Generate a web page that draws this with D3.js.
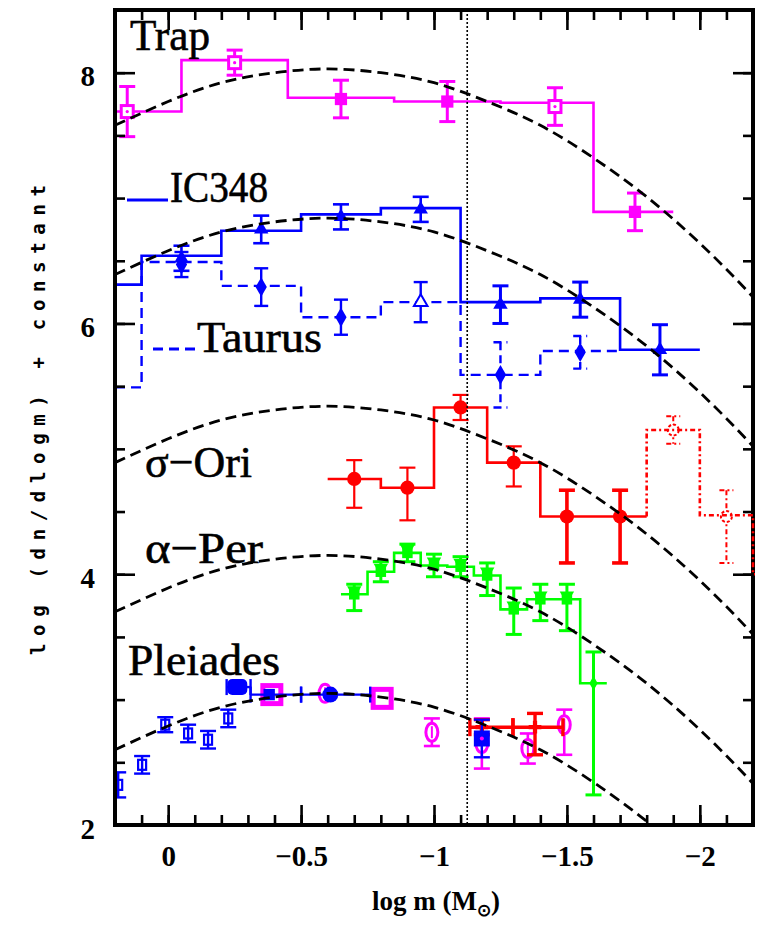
<!DOCTYPE html>
<html><head><meta charset="utf-8">
<script src="https://cdn.jsdelivr.net/npm/d3@7/dist/d3.min.js"></script>
<style>body{margin:0;background:#fff}</style>
</head><body>
<svg id="c" width="760" height="933"></svg>
<script>
// ---------------- DATA ----------------
const xTickValues = [0, -0.5, -1, -1.5, -2];
const xTickLabels = ["0", "\u22120.5", "\u22121", "\u22121.5", "\u22122"];
const yTickValues = [2, 4, 6, 8];
const yTickLabels = ["2", "4", "6", "8"];
const hydrogenLimit = -1.125;

// lognormal fits (dashed), sampled along log m
const curveLogM   = [0.2, 0, -0.2, -0.4, -0.6, -0.8, -1.0, -1.2, -1.4, -1.6, -1.8, -2.0, -2.2, -2.4];
const trapFit     = [7.58, 7.77, 7.92, 8.00, 8.03, 8.00, 7.92, 7.77, 7.58, 7.32, 7.01, 6.64, 6.21, 5.73];
const ic348Fit    = [6.39, 6.58, 6.73, 6.81, 6.84, 6.81, 6.73, 6.58, 6.39, 6.13, 5.82, 5.45, 5.02, 4.54];
const sigOriFit   = [4.89, 5.08, 5.23, 5.31, 5.34, 5.31, 5.23, 5.08, 4.89, 4.63, 4.32, 3.95, 3.52, 3.04];
const alphaPerFit = [3.70, 3.89, 4.04, 4.12, 4.15, 4.12, 4.04, 3.89, 3.70, 3.44, 3.13, 2.76, 2.33, 1.85];
const pleiadesFit = [2.60, 2.79, 2.94, 3.02, 3.05, 3.02, 2.94, 2.79, 2.60, 2.34, 2.03, 1.66, 1.23, 0.75];

// histograms (bin edges in log m, value per bin)
const trapEdges = [0.2, -0.05, -0.45, -0.85, -1.25, -1.6, -1.9];
const trapHist  = [7.69, 8.10, 7.80, 7.77, 7.76, 6.89];
const ic348Edges = [0.2, 0.1, -0.2, -0.5, -0.8, -1.1, -1.4, -1.7, -2.0];
const ic348Hist  = [6.31, 6.54, 6.74, 6.87, 6.92, 6.17, 6.20, 5.79];
const taurusEdges = [0.2, 0.1, -0.2, -0.5, -0.8, -1.1, -1.4, -1.7];
const taurusHist  = [5.49, 6.49, 6.30, 6.05, 6.17, 5.59, 5.78];
const sigOriEdges = [-0.6, -0.8, -1.0, -1.2, -1.4, -1.8];
const sigOriHist  = [4.76, 4.69, 5.33, 4.89, 4.46];
const sigOriExtEdges = [-1.8, -2.0, -2.2, -2.4];
const sigOriExtHist  = [5.15, 4.47, 4.00];
const alphaPerEdges = [-0.65, -0.75, -0.85, -0.95, -1.05, -1.15, -1.25, -1.35, -1.45, -1.55, -1.65];
const alphaPerHist  = [3.84, 4.02, 4.17, 4.07, 4.06, 3.99, 3.72, 3.80, 3.80, 3.13];

// points with error bars
const trapX   = [0.154, -0.25, -0.65, -1.05, -1.455, -1.756];
const trapY   = [7.69, 8.08, 7.79, 7.77, 7.73, 6.89];
const trapErr = [0.20, 0.10, 0.15, 0.16, 0.15, 0.15];

const ic348X   = [-0.05, -0.35, -0.65, -0.95, -1.25, -1.55, -1.85];
const ic348Y   = [6.52, 6.75, 6.85, 6.91, 6.15, 6.19, 5.79];
const ic348Err = [0.10, 0.11, 0.10, 0.10, 0.15, 0.14, 0.20];

const taurusX   = [-0.05, -0.35, -0.65, -0.95, -1.25, -1.55];
const taurusY   = [6.47, 6.29, 6.05, 6.17, 5.59, 5.77];
const taurusErr = [0.10, 0.15, 0.14, 0.16, 0.26, 0.13];

const sigOriX  = [-0.7, -0.9, -1.1, -1.3, -1.5, -1.7];
const sigOriY  = [4.76, 4.69, 5.33, 4.89, 4.46, 4.46];
const sigOriUp = [0.15, 0.16, 0.10, 0.13, 0.21, 0.21];
const sigOriDn = [0.23, 0.26, 0.10, 0.19, 0.37, 0.37];
const sigOriExtX  = [-1.9, -2.1];
const sigOriExtY  = [5.15, 4.46];
const sigOriExtUp = [0.11, 0.21];
const sigOriExtDn = [0.11, 0.37];

const alphaPerX  = [-0.7, -0.8, -0.9, -1.0, -1.1, -1.2, -1.3, -1.4, -1.5, -1.6];
const alphaPerY  = [3.84, 4.02, 4.17, 4.07, 4.06, 3.99, 3.72, 3.80, 3.80, 3.13];
const alphaPerUp = [0.08, 0.08, 0.07, 0.09, 0.08, 0.10, 0.17, 0.12, 0.12, 0.25];
const alphaPerDn = [0.13, 0.08, 0.07, 0.09, 0.08, 0.16, 0.20, 0.17, 0.25, 0.89];

const pleiBlueX   = [0.188, 0.098, 0.011, -0.075, -0.15, -0.226];
const pleiBlueY   = [2.32, 2.48, 2.80, 2.73, 2.68, 2.85];
const pleiBlueErr = [0.10, 0.07, 0.06, 0.07, 0.07, 0.07];
const pleiBinX  = [-0.26, -0.38, -0.61];
const pleiBinY  = [3.10, 3.04, 3.04];
const pleiBinLo = [-0.22, -0.31, -0.50];
const pleiBinHi = [-0.31, -0.50, -0.76];
const pleiBlueSqX = [-1.18], pleiBlueSqY = [2.69], pleiBlueSqErr = [0.15];
const pleiMagSqX = [-0.39, -0.805];
const pleiMagSqY = [3.04, 3.01];
const pleiMagCircX  = [-0.59, -0.992, -1.18, -1.353, -1.49];
const pleiMagCircY  = [3.05, 2.74, 2.65, 2.61, 2.80];
const pleiMagCircUp = [0.00, 0.11, 0.20, 0.12, 0.12];
const pleiMagCircDn = [0.00, 0.11, 0.20, 0.12, 0.24];
const pleiRedX  = [-1.18, -1.38];
const pleiRedY  = [2.78, 2.78];
const pleiRedLo = [-1.135, -1.297];
const pleiRedHi = [-1.297, -1.485];
const pleiRedUp = [0.06, 0.11];
const pleiRedDn = [0.06, 0.22];

const clusterNames = ["Trap", "IC348", "Taurus", "\u03C3\u2212Ori", "\u03B1\u2212Per", "Pleiades"];

// ---------------- DRAWING ----------------
const MAG = "#ff00ff", BLUE = "#0000ff", RED = "#ff0000", GREEN = "#00ff00";
const L = 115, R = 753, T = 10, B = 825;
const x = d3.scaleLinear().domain([0.2, -2.2]).range([L, R]);
const y = d3.scaleLinear().domain([2, 8.5]).range([B, T]);
const svg = d3.select("#c");

const defs = svg.append("defs");
defs.append("clipPath").attr("id", "plot")
  .append("rect").attr("x", L).attr("y", T).attr("width", R - L).attr("height", B - T);
defs.append("clipPath").attr("id", "plotWide")
  .append("rect").attr("x", L).attr("y", T).attr("width", R - L + 2).attr("height", B - T);
const g = svg.append("g").attr("clip-path", "url(#plot)");

const stepLine = d3.line().x(d => x(d[0])).y(d => y(d[1])).curve(d3.curveStepAfter);
function stepPts(edges, vals, start) {
  const pts = [];
  if (start !== undefined) pts.push([edges[0], start]);
  vals.forEach((v, i) => pts.push([edges[i], v]));
  pts.push([edges[edges.length - 1], vals[vals.length - 1]]);
  return pts;
}
function hist(edges, vals, color, w, dash, start, target) {
  (target || g).append("path").attr("d", stepLine(stepPts(edges, vals, start)))
    .attr("fill", "none").attr("stroke", color).attr("stroke-width", w)
    .attr("stroke-dasharray", dash || null);
}
function vbar(xv, yv, up, dn, color, w, cap, dash) {
  const px = x(xv);
  const e = g.append("g").attr("stroke", color).attr("stroke-width", w).attr("fill", "none")
    .attr("stroke-dasharray", dash || null);
  e.append("line").attr("x1", px).attr("x2", px).attr("y1", y(yv + up)).attr("y2", y(yv - dn));
  if (up > 0) e.append("line").attr("x1", px - cap).attr("x2", px + cap).attr("y1", y(yv + up)).attr("y2", y(yv + up));
  if (dn > 0) e.append("line").attr("x1", px - cap).attr("x2", px + cap).attr("y1", y(yv - dn)).attr("y2", y(yv - dn));
}
function hbar(lo, hi, yv, color, w, cap) {
  const e = g.append("g").attr("stroke", color).attr("stroke-width", w);
  e.append("line").attr("x1", x(lo)).attr("x2", x(hi)).attr("y1", y(yv)).attr("y2", y(yv));
  [lo, hi].forEach(v => e.append("line").attr("x1", x(v)).attr("x2", x(v)).attr("y1", y(yv) - cap).attr("y2", y(yv) + cap));
}
function sym(type, xv, yv, size, fill, stroke, sw, rot) {
  g.append("path").attr("d", d3.symbol(type, size)())
    .attr("transform", `translate(${x(xv)},${y(yv)}) rotate(${rot || 0})`)
    .attr("fill", fill).attr("stroke", stroke || "none").attr("stroke-width", sw || 0);
}

// histograms
hist(trapEdges, trapHist, MAG, 2.6);
hist(ic348Edges, ic348Hist, BLUE, 2.6);
hist(taurusEdges, taurusHist, BLUE, 2.4, "10,6");
hist(sigOriEdges, sigOriHist, RED, 2.6);
hist(alphaPerEdges, alphaPerHist, GREEN, 2.6);

// Trap points
const trapOpen = [true, true, false, false, true, false];
trapX.forEach((xv, i) => {
  vbar(xv, trapY[i], trapErr[i], trapErr[i], MAG, 3, 8);
  if (trapOpen[i]) {
    g.append("rect").attr("x", x(xv) - 6).attr("y", y(trapY[i]) - 6).attr("width", 12).attr("height", 12)
      .attr("fill", "#fff").attr("stroke", MAG).attr("stroke-width", 3);
    g.append("circle").attr("cx", x(xv)).attr("cy", y(trapY[i])).attr("r", 1.6).attr("fill", MAG);
  } else {
    sym(d3.symbolSquare, xv, trapY[i], 150, MAG);
  }
});

// IC348 points
ic348X.forEach((xv, i) => {
  vbar(xv, ic348Y[i], ic348Err[i], ic348Err[i], BLUE, i >= 4 ? 3 : 2.6, 8);
  sym(d3.symbolTriangle, xv, ic348Y[i], 90, BLUE);
});
// Taurus points
taurusX.forEach((xv, i) => {
  vbar(xv, taurusY[i], taurusErr[i], taurusErr[i], BLUE, 2.4, 7, i >= 4 ? "8,5" : null);
  if (i === 3) {
    sym(d3.symbolTriangle, xv, taurusY[i], 80, "#fff", BLUE, 2);
  } else {
    sym(d3.symbolDiamond, xv, taurusY[i], 110, BLUE);
  }
});

// sigma Ori points
sigOriX.forEach((xv, i) => {
  vbar(xv, sigOriY[i], sigOriUp[i], sigOriDn[i], RED, i >= 4 ? 3.6 : 2.2, 8);
  sym(d3.symbolCircle, xv, sigOriY[i], 160, RED);
});
sigOriExtX.forEach((xv, i) => {
  vbar(xv, sigOriExtY[i], sigOriExtUp[i], sigOriExtDn[i], RED, 2, 7, "5,3,2,3");
  g.append("circle").attr("cx", x(xv)).attr("cy", y(sigOriExtY[i])).attr("r", 5.5)
    .attr("fill", "#fff").attr("stroke", RED).attr("stroke-width", 2).attr("stroke-dasharray", "3,2");
});

// alpha Per points
alphaPerX.forEach((xv, i) => {
  vbar(xv, alphaPerY[i], alphaPerUp[i], alphaPerDn[i], GREEN, 3, 8);
  if (i === alphaPerX.length - 1) {
    sym(d3.symbolDiamond, xv, alphaPerY[i], 60, GREEN);
  } else {
    sym(d3.symbolSquare, xv, alphaPerY[i], 110, GREEN);
    sym(d3.symbolTriangle, xv, alphaPerY[i] + 0.03, 90, GREEN, null, 0, 180);
  }
});

// Pleiades
pleiBlueX.forEach((xv, i) => {
  vbar(xv, pleiBlueY[i], pleiBlueErr[i], pleiBlueErr[i], BLUE, 2.4, 8);
  g.append("rect").attr("x", x(xv) - 4).attr("y", y(pleiBlueY[i]) - 5).attr("width", 8).attr("height", 10)
    .attr("fill", "none").attr("stroke", BLUE).attr("stroke-width", 2.2);
});
pleiMagCircX.forEach((xv, i) => {
  vbar(xv, pleiMagCircY[i], pleiMagCircUp[i], pleiMagCircDn[i], MAG, 2.6, 8);
  g.append("ellipse").attr("cx", x(xv)).attr("cy", y(pleiMagCircY[i])).attr("rx", 6).attr("ry", 9)
    .attr("fill", "#fff").attr("stroke", MAG).attr("stroke-width", 3);
  g.append("line").attr("x1", x(xv)).attr("x2", x(xv)).attr("y1", y(pleiMagCircY[i]) - 6).attr("y2", y(pleiMagCircY[i]) + 6)
    .attr("stroke", MAG).attr("stroke-width", 2);
});
pleiMagSqX.forEach((xv, i) => {
  g.append("rect").attr("x", x(xv) - 9).attr("y", y(pleiMagSqY[i]) - 9).attr("width", 18).attr("height", 18)
    .attr("fill", i === 1 ? "#fff" : "none").attr("stroke", MAG).attr("stroke-width", 5);
});
pleiBinX.forEach((xv, i) => {
  hbar(pleiBinLo[i], pleiBinHi[i], pleiBinY[i], BLUE, 2.4, 8);
  if (i === 0) {
    g.append("rect").attr("x", x(xv) - 10).attr("y", y(pleiBinY[i]) - 8).attr("width", 20).attr("height", 16)
      .attr("rx", 5).attr("fill", BLUE);
  } else if (i === 1) {
    sym(d3.symbolSquare, xv, pleiBinY[i], 130, BLUE);
  } else {
    sym(d3.symbolCircle, xv, pleiBinY[i], 200, BLUE);
  }
});
pleiRedX.forEach((xv, i) => {
  hbar(pleiRedLo[i], pleiRedHi[i], pleiRedY[i], RED, 3.4, 9);
  vbar(xv, pleiRedY[i], pleiRedUp[i], pleiRedDn[i], RED, 3.4, 8);
  sym(d3.symbolCross, xv, pleiRedY[i], 90, RED);
});
pleiBlueSqX.forEach((xv, i) => {
  vbar(xv, pleiBlueSqY[i], pleiBlueSqErr[i], pleiBlueSqErr[i], BLUE, 2.4, 8);
  g.append("rect").attr("x", x(xv) - 8).attr("y", y(pleiBlueSqY[i]) - 8).attr("width", 16).attr("height", 16)
    .attr("fill", BLUE);
  g.append("circle").attr("cx", x(xv)).attr("cy", y(pleiBlueSqY[i])).attr("r", 2).attr("fill", MAG);
});

// dashed lognormal fits
const fitLine = d3.line().x((d, i) => x(curveLogM[i])).y(d => y(d)).curve(d3.curveNatural);
[trapFit, ic348Fit, sigOriFit, alphaPerFit, pleiadesFit].forEach(arr => {
  g.append("path").attr("d", fitLine(arr)).attr("fill", "none")
    .attr("stroke", "#000").attr("stroke-width", 2.8).attr("stroke-dasharray", "11,6");
});

// hydrogen burning limit
g.append("line").attr("x1", x(hydrogenLimit)).attr("x2", x(hydrogenLimit)).attr("y1", T).attr("y2", B)
  .attr("stroke", "#000").attr("stroke-width", 1.6).attr("stroke-dasharray", "2,2");

// ---------------- AXES ----------------
const minorX = d3.range(2, -23, -1).map(v => v / 10);
const minorY = d3.range(4, 18, 1).map(v => v / 2);
function styleAxis(sel) {
  sel.select(".domain").remove();
  sel.selectAll(".tick line").attr("stroke", "#000").attr("stroke-width", 2.6);
}
const fmtX = d => xTickLabels[xTickValues.indexOf(d)];
const fmtY = d => yTickLabels[yTickValues.indexOf(d)];
svg.append("g").attr("transform", `translate(0,${B})`)
  .call(d3.axisBottom(x).tickValues(minorX).tickSize(-10).tickFormat("")).call(styleAxis);
svg.append("g").attr("transform", `translate(0,${B})`)
  .call(d3.axisBottom(x).tickValues(xTickValues).tickSize(-20).tickPadding(20).tickFormat(fmtX)).call(styleAxis)
  .selectAll("text").attr("font-family", "Liberation Serif, serif").attr("font-weight", "bold")
  .attr("font-size", 29).attr("fill", "#000");
svg.append("g").attr("transform", `translate(0,${T})`)
  .call(d3.axisTop(x).tickValues(minorX).tickSize(-10).tickFormat("")).call(styleAxis);
svg.append("g").attr("transform", `translate(0,${T})`)
  .call(d3.axisTop(x).tickValues(xTickValues).tickSize(-20).tickFormat("")).call(styleAxis);
svg.append("g").attr("transform", `translate(${L},0)`)
  .call(d3.axisLeft(y).tickValues(minorY).tickSize(-10).tickFormat("")).call(styleAxis);
svg.append("g").attr("transform", `translate(${L},0)`)
  .call(d3.axisLeft(y).tickValues(yTickValues).tickSize(-20).tickPadding(20).tickFormat(fmtY)).call(styleAxis)
  .selectAll("text").attr("font-family", "Liberation Serif, serif").attr("font-weight", "bold")
  .attr("font-size", 29).attr("fill", "#000").attr("dy", "0.45em");
svg.append("g").attr("transform", `translate(${R},0)`)
  .call(d3.axisRight(y).tickValues(minorY).tickSize(-10).tickFormat("")).call(styleAxis);
svg.append("g").attr("transform", `translate(${R},0)`)
  .call(d3.axisRight(y).tickValues(yTickValues).tickSize(-20).tickFormat("")).call(styleAxis);

svg.append("rect").attr("x", L).attr("y", T).attr("width", R - L).attr("height", B - T)
  .attr("fill", "none").attr("stroke", "#000").attr("stroke-width", 4);

// sigma Ori extension histogram (drawn over the frame at the right edge, as in the original)
const gWide = svg.append("g").attr("clip-path", "url(#plotWide)");
hist(sigOriExtEdges, sigOriExtHist, RED, 2.6, "5,3,2,3", sigOriHist[sigOriHist.length - 1], gWide);

// axis titles
const xt = svg.append("text").attr("x", 436).attr("y", 910).attr("text-anchor", "middle")
  .attr("font-family", "Liberation Serif, serif").attr("font-weight", "bold").attr("font-size", 27).attr("fill", "#000");
xt.append("tspan").text("log m (M");
xt.append("tspan").attr("font-size", 17).attr("dy", 6).text("\u2299");
xt.append("tspan").attr("dy", -6).text(")");

svg.append("text").attr("transform", "translate(45,420) rotate(-90)").attr("text-anchor", "middle")
  .attr("font-family", "DejaVu Sans Mono, monospace").attr("font-weight", "bold").attr("font-size", 19)
  .attr("textLength", 470).attr("lengthAdjust", "spacing").attr("fill", "#000")
  .text("log (dn/dlogm) + constant");

// cluster labels
const labelPos = [[130, 50, 80], [170, 202, 98], [197, 352, 125], [145, 477, 107], [145, 563, 118], [128, 675, 152]];
clusterNames.forEach((t, i) => {
  svg.append("text").attr("x", labelPos[i][0]).attr("y", labelPos[i][1])
    .attr("font-family", "Liberation Serif, serif").attr("font-size", 44).attr("fill", "#000")
    .attr("stroke", "#000").attr("stroke-width", 0.6)
    .attr("textLength", labelPos[i][2]).attr("lengthAdjust", "spacingAndGlyphs").text(t);
});
// legend line samples
svg.append("line").attr("x1", 127).attr("x2", 168).attr("y1", 200).attr("y2", 200)
  .attr("stroke", BLUE).attr("stroke-width", 3);
svg.append("line").attr("x1", 153).attr("x2", 197).attr("y1", 349).attr("y2", 349)
  .attr("stroke", BLUE).attr("stroke-width", 3).attr("stroke-dasharray", "10,6");
</script>
</body></html>
